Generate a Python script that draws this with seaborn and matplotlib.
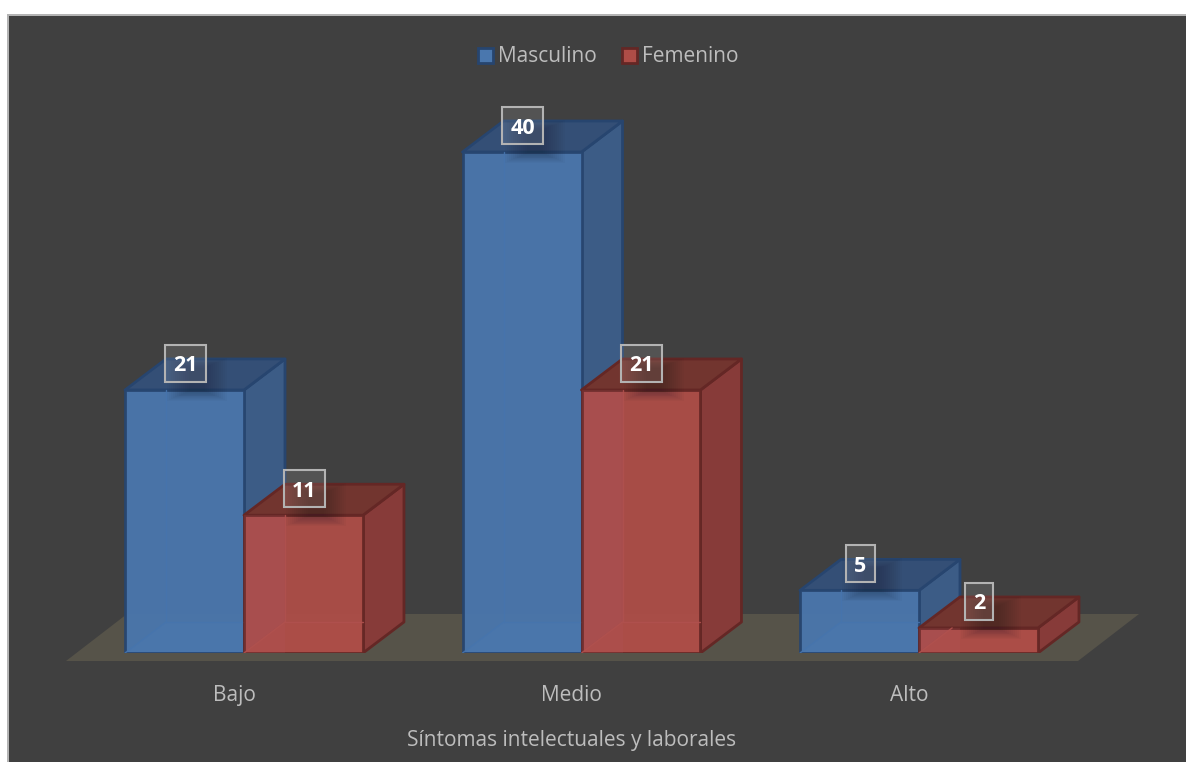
import matplotlib
matplotlib.use("Agg")
import matplotlib.pyplot as plt
from matplotlib.patches import Polygon, Rectangle, FancyBboxPatch
from matplotlib.transforms import ScaledTranslation
import pandas as pd
import seaborn as sns

categories = ["Bajo", "Medio", "Alto"]
masculino = [21, 40, 5]
femenino = [11, 21, 2]
series_names = ["Masculino", "Femenino"]
x_title = "Síntomas intelectuales y laborales"

W, H = 1186, 762
PANEL = "#404040"
TXT = "#bdbdbd"
STYLE = {
    "Masculino": dict(front="#4a77ae", side="#3c5c86", top="#344f76", edge="#27456f", inner="#4674ad", floor="#4f6a8c"),
    "Femenino": dict(front="#ae4d47", side="#873b39", top="#72352f", edge="#642725", inner="#b0514e", floor="#8c5650"),
}
DX, DY = 41, 31  # depth of the 3-D extrusion, px

sns.set_theme(style="white")
plt.rcParams["font.family"] = ["Open Sans", "DejaVu Sans"]

fig = plt.figure(figsize=(W / 100, H / 100), dpi=100, facecolor="white")
fig.add_artist(Rectangle((7 / W, 0), (W - 7) / W, (H - 14) / H, transform=fig.transFigure,
                         facecolor="#b4b4b4", edgecolor="none", zorder=-3))
fig.add_artist(Rectangle((9 / W, 0), (W - 9) / W, (H - 16) / H, transform=fig.transFigure,
                         facecolor=PANEL, edgecolor="none", zorder=-2))

ax = fig.add_axes([8 / W, (H - 653) / H, (W - 8) / W, (653 - 15) / H])
ax.patch.set_visible(False)

df = pd.DataFrame({
    "cat": categories * 2,
    "val": masculino + femenino,
    "serie": [series_names[0]] * 3 + [series_names[1]] * 3,
})
sns.barplot(data=df, x="cat", y="val", hue="serie", hue_order=series_names, order=categories,
            palette={k: v["front"] for k, v in STYLE.items()}, saturation=1,
            width=0.705, gap=0, legend=False, ax=ax, zorder=6)

PX = 337.5   # px per category
PY = 12.525  # px per unit
ax.set_xlim((8 - 244) / PX, (W - 244) / PX)
ax.set_ylim(0, (653 - 15) / PY)
dx, dy = DX / PX, DY / PY

sns.despine(ax=ax, left=True, bottom=True)
ax.set_yticks([])
ax.tick_params(axis="x", length=0, pad=23, labelsize=15, labelcolor=TXT)
for lab in ax.get_xticklabels():
    lab.set_transform(lab.get_transform() + ScaledTranslation(-10 / 100, 0, fig.dpi_scale_trans))
ax.set_ylabel("")
ax.set_xlabel(x_title, fontsize=15, color=TXT, labelpad=17.6)
ax.xaxis.label.set_x((571.5 - 8) / (W - 8))

# floor plane
fx = lambda p: (p - 244) / PX
fy = lambda p: (653 - p) / PY
ax.add_patch(Polygon([(fx(66), fy(661)), (fx(1078), fy(661)), (fx(1139), fy(614)), (fx(127), fy(614))],
                     closed=True, facecolor="#565349", edgecolor="none", clip_on=False, zorder=1))

z = 2
boxes = []
for name, cont in zip(series_names, ax.containers):
    st = STYLE[name]
    for bar in cont.patches:
        x0, w, h = bar.get_x(), bar.get_width(), bar.get_height()
        x1 = x0 + w
        lw = 2
        # bottom face
        ax.add_patch(Polygon([(x0, 0), (x1, 0), (x1 + dx, dy), (x0 + dx, dy)], closed=True,
                             facecolor=st["floor"], edgecolor="none", zorder=z))
        # side face
        ax.add_patch(Polygon([(x1, 0), (x1 + dx, dy), (x1 + dx, h + dy), (x1, h)], closed=True,
                             facecolor=st["side"], edgecolor=st["edge"], lw=lw, joinstyle="round", zorder=z))
        # top face
        ax.add_patch(Polygon([(x0, h), (x1, h), (x1 + dx, h + dy), (x0 + dx, h + dy)], closed=True,
                             facecolor=st["top"], edgecolor=st["edge"], lw=lw, joinstyle="round", zorder=z))
        # front face: the seaborn bar itself, raised above earlier faces
        bar.set_edgecolor(st["edge"])
        bar.set_linewidth(lw)
        bar.set_alpha(0.94)
        bar.set_zorder(z + 0.4)
        # the neighbouring blue side showing through the red front
        if name == "Femenino":
            ax.add_patch(Rectangle((x0, 0), dx, h, facecolor="#b85a68", edgecolor="none", alpha=0.14, zorder=z + 0.45))
        # faint hidden back edges seen through the front
        ax.plot([x0, min(x0 + dx, x0 + h / dy * dx)], [0, min(dy, h)], color=st["inner"], lw=1, alpha=0.9, zorder=z + 0.5)
        if h > dy:
            ax.plot([x0 + dx, x0 + dx], [dy, h], color=st["inner"], lw=1, alpha=0.9, zorder=z + 0.5)
            ax.plot([x0 + dx, x1], [dy, dy], color=st["inner"], lw=1, alpha=0.9, zorder=z + 0.5)
        # soft shadow under the data label
        cx, ty = x0 + 60 / PX, h + 26.5 / PY
        for grow in range(0, 24, 2):
            ax.add_patch(FancyBboxPatch((cx + (12 - 30 + grow) / PX, h + (-11 + grow * 0.45) / PY),
                                        (60 - 2 * grow) / PX, (43 - grow * 0.9) / PY,
                                        boxstyle="square,pad=0", facecolor="#101820", edgecolor="none",
                                        alpha=0.028, zorder=z + 0.6, clip_on=False))
        boxes.append((cx, ty, int(h)))
    z += 1

# data labels
for cx, cy, v in boxes:
    bw = 41 if v >= 10 else 29
    ax.add_patch(Rectangle((cx - bw / 2 / PX, cy - 18.5 / PY), bw / PX, 37 / PY, facecolor="#ffffff",
                           edgecolor="none", alpha=0.1, zorder=20, clip_on=False))
    ax.add_patch(Rectangle((cx - bw / 2 / PX, cy - 18.5 / PY), bw / PX, 37 / PY, facecolor="none",
                           edgecolor="#b3b3b3", lw=1.5, zorder=21, clip_on=False))
    ax.text(cx, cy, str(v), ha="center", va="center_baseline", fontsize=15.5, fontweight="bold",
            color="white", zorder=22)

# legend
handles = [Rectangle((0, 0), 1, 1, facecolor=STYLE[n]["front"], edgecolor=STYLE[n]["edge"], lw=2)
           for n in series_names]
ax.legend(handles, series_names, loc="center", bbox_to_anchor=((608 - 8) / (W - 8), (653 - 57) / (653 - 15)),
          ncol=2, frameon=False, fontsize=15, labelcolor=TXT, handlelength=0.72, handleheight=0.72,
          handletextpad=0.25, columnspacing=1.2, borderpad=0, borderaxespad=0)

fig.savefig("out.png", dpi=100)
